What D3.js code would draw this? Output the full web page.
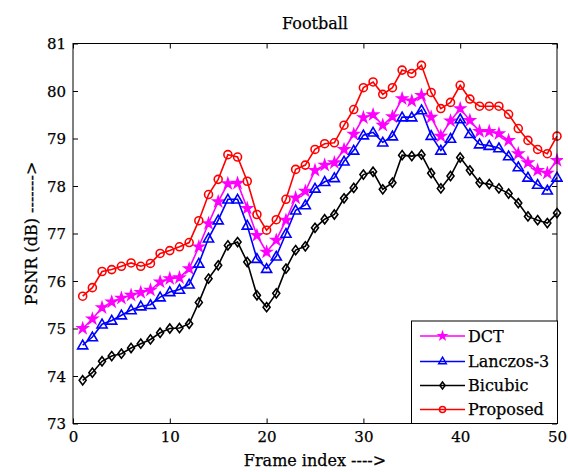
<!DOCTYPE html>
<html>
<head>
<meta charset="utf-8">
<script src="https://cdn.jsdelivr.net/npm/d3@7"></script>
<style>
  html, body { margin: 0; padding: 0; background: #fff; }
  svg { display: block; }
  text { font-family: "DejaVu Serif", "Liberation Serif", serif; fill: #000; stroke: #000; stroke-width: 0.25px; }
</style>
</head>
<body>
<script>
const frames = [1,2,3,4,5,6,7,8,9,10,11,12,13,14,15,16,17,18,19,20,21,22,23,24,25,26,27,28,29,30,31,32,33,34,35,36,37,38,39,40,41,42,43,44,45,46,47,48,49,50];

const dct = [75.00,75.20,75.44,75.56,75.64,75.70,75.76,75.81,75.98,76.05,
             76.07,76.26,76.72,77.21,77.67,78.05,78.06,77.53,76.96,76.61,
             76.86,77.28,77.75,77.89,78.33,78.44,78.49,78.77,79.09,79.44,
             79.50,79.28,79.46,79.84,79.79,79.91,79.45,79.05,79.37,79.63,
             79.38,79.15,79.15,79.10,78.96,78.68,78.49,78.33,78.27,78.54];

const lanczos = [74.65,74.82,75.09,75.17,75.28,75.39,75.47,75.50,75.66,75.77,
                 75.82,75.93,76.37,76.90,77.28,77.72,77.72,77.17,76.47,76.26,
                 76.52,77.00,77.49,77.60,77.95,78.09,78.17,78.52,78.75,79.07,
                 79.13,78.92,79.05,79.45,79.45,79.60,79.06,78.75,79.00,79.41,
                 79.10,78.88,78.85,78.80,78.63,78.40,78.18,78.03,77.91,78.18];

const bicubic = [73.91,74.07,74.31,74.42,74.47,74.59,74.68,74.77,74.91,75.00,
                 75.01,75.10,75.55,76.05,76.33,76.75,76.82,76.40,75.70,75.45,
                 75.74,76.26,76.65,76.73,77.12,77.30,77.40,77.74,77.96,78.24,
                 78.30,77.93,78.07,78.65,78.63,78.66,78.27,77.95,78.21,78.60,
                 78.33,78.07,78.04,77.95,77.84,77.64,77.36,77.28,77.22,77.43];

const proposed = [75.68,75.86,76.20,76.24,76.31,76.38,76.31,76.37,76.58,76.64,
                  76.72,76.81,77.27,77.82,78.14,78.66,78.61,78.10,77.40,77.07,
                  77.29,77.72,78.35,78.44,78.77,78.89,78.91,79.28,79.61,80.07,
                  80.19,79.93,80.07,80.44,80.37,80.54,79.97,79.63,79.76,80.12,
                  79.83,79.68,79.68,79.68,79.51,79.21,78.96,78.77,78.68,79.05];

const xTicks = [0,10,20,30,40,50];
const yTicks = [73,74,75,76,77,78,79,80,81];
const seriesNames = ["DCT","Lanczos-3","Bicubic","Proposed"];
const seriesColors = ["#ff00ff","#0000ff","#000000","#ff0000"];
const seriesMarkers = ["star","triangle","diamond","circle"];
const seriesData = [dct, lanczos, bicubic, proposed];

const W = 568, H = 472;
const margin = {left: 73, right: 11, top: 43.5, bottom: 48.5};
const iw = W - margin.left - margin.right;
const ih = H - margin.top - margin.bottom;

const svg = d3.select("body").append("svg").attr("width", W).attr("height", H);
const g = svg.append("g").attr("transform", `translate(${margin.left},${margin.top})`);

const x = d3.scaleLinear().domain([0,50]).range([0, iw]);
const y = d3.scaleLinear().domain([73,81]).range([ih, 0]);

// axes with inward ticks
const tk = 5;
const axB = g.append("g").attr("transform", `translate(0,${ih})`)
  .call(d3.axisBottom(x).tickValues(xTicks).tickSizeInner(-tk).tickSizeOuter(0).tickPadding(8));
const axT = g.append("g")
  .call(d3.axisTop(x).tickValues(xTicks).tickSizeInner(-tk).tickSizeOuter(0).tickFormat(""));
const axL = g.append("g")
  .call(d3.axisLeft(y).tickValues(yTicks).tickSizeInner(-tk).tickSizeOuter(0).tickPadding(7));
const axR = g.append("g").attr("transform", `translate(${iw},0)`)
  .call(d3.axisRight(y).tickValues(yTicks).tickSizeInner(-tk).tickSizeOuter(0).tickFormat(""));
[axB, axT, axL, axR].forEach(a => {
  a.select(".domain").remove();
  a.selectAll(".tick line").attr("stroke", "#000").attr("stroke-width", 1);
  a.selectAll(".tick text").style("font-family", "DejaVu Serif, serif").style("font-size", "15px")
    .attr("fill", "#000").attr("stroke", "#000").attr("stroke-width", 0.25);
});
axL.selectAll(".tick text").attr("dy", "0.35em");

// clip to plot
svg.append("defs").append("clipPath").attr("id", "clip")
  .append("rect").attr("x", -6).attr("y", -6).attr("width", iw + 12).attr("height", ih + 12);

const line = d3.line().x((d, i) => x(frames[i])).y(d => y(d));

function markerPath(type, k) {
  k = k || 1;
  if (type === "star") return d3.symbol().type(d3.symbolStar).size(30 * k * k)();
  if (type === "triangle") return d3.symbol().type(d3.symbolTriangle).size(44 * k * k)();
  if (type === "circle") return d3.symbol().type(d3.symbolCircle).size(50 * k * k)();
  // diamond (MATLAB style, slightly taller than wide)
  const p = d3.path();
  p.moveTo(0, -4.6 * k); p.lineTo(3.5 * k, 0); p.lineTo(0, 4.6 * k); p.lineTo(-3.5 * k, 0); p.closePath();
  return p.toString();
}

const plot = g.append("g").attr("clip-path", "url(#clip)");
seriesData.forEach((data, s) => {
  const col = seriesColors[s];
  const sg = plot.append("g");
  sg.append("path").datum(data).attr("d", line)
    .attr("fill", "none").attr("stroke", col).attr("stroke-width", 1.6);
  const mp = markerPath(seriesMarkers[s]);
  sg.selectAll("path.m").data(data).enter().append("path").attr("class", "m")
    .attr("d", mp)
    .attr("transform", (d, i) => `translate(${x(frames[i])},${y(d) + (seriesMarkers[s] === "triangle" ? 0.8 : 0)})`)
    .attr("fill", seriesMarkers[s] === "star" ? col : "none")
    .attr("stroke", col)
    .attr("stroke-width", 1.6);
});

// box
g.append("rect").attr("x", 0).attr("y", 0).attr("width", iw).attr("height", ih)
  .attr("fill", "none").attr("stroke", "#000").attr("stroke-width", 1);

// title & labels
svg.append("text").attr("x", margin.left + iw / 2).attr("y", 29)
  .attr("text-anchor", "middle").style("font-size", "16px").text("Football");
svg.append("text").attr("x", margin.left + iw / 2).attr("y", 466)
  .attr("text-anchor", "middle").style("font-size", "16px").text("Frame index ---->");
svg.append("text").attr("transform", `translate(37,${margin.top + ih / 2}) rotate(-90)`)
  .attr("text-anchor", "middle").style("font-size", "16px").text("PSNR (dB) ------->");

// legend
const lx = 411.5, ly = 321, lw = 146, lh = 102.5;
const leg = svg.append("g");
leg.append("rect").attr("x", lx).attr("y", ly).attr("width", lw).attr("height", lh)
  .attr("fill", "#fff").attr("stroke", "#000").attr("stroke-width", 1);
const rowY = [336, 361.5, 385.5, 409.5];
seriesNames.forEach((name, s) => {
  const col = seriesColors[s];
  const yy = rowY[s];
  leg.append("line").attr("x1", 420).attr("x2", 465).attr("y1", yy).attr("y2", yy)
    .attr("stroke", col).attr("stroke-width", 1.6);
  leg.append("path").attr("d", markerPath(seriesMarkers[s], 0.75))
    .attr("transform", `translate(442.5,${yy})`)
    .attr("fill", seriesMarkers[s] === "star" ? col : "none")
    .attr("stroke", col).attr("stroke-width", 1.5);
  leg.append("text").attr("x", 468).attr("y", yy).attr("dy", "0.36em")
    .style("font-size", "16px").text(name);
});
</script>
</body>
</html>
